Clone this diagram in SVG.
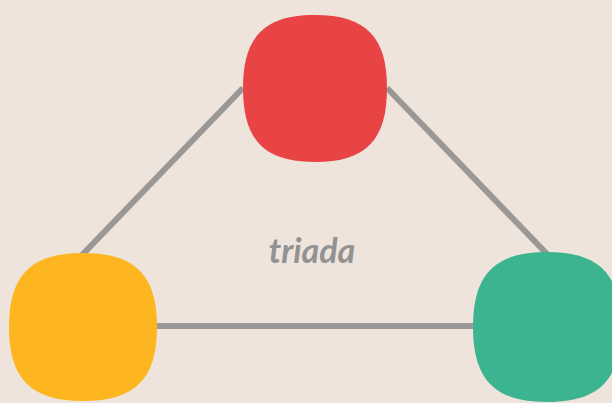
<svg xmlns="http://www.w3.org/2000/svg" width="612" height="403" viewBox="0 0 612 403">
<style>
.edge{stroke:#999897;stroke-width:6;fill:none}
.node{stroke:none}
.lbl{font-family:Lato,"Liberation Sans",Arial,sans-serif;font-weight:bold;font-style:italic;font-size:34px;fill:#929292}
</style>
<rect width="612" height="403" fill="#EFE4DB"/>
<g id="connectors">
<line class="edge" x1="243" y1="88" x2="82" y2="255"/>
<line class="edge" x1="387" y1="88" x2="548" y2="255"/>
<line class="edge" x1="155" y1="326" x2="475" y2="326"/>
</g>
<g id="node-red"><path class="node" fill="#E84446" d="M315,15 C366,15 387,37 387,88 C387,140 366,162 315,162 C264,162 243,140 243,88 C243,37 264,15 315,15 Z"/></g>
<g id="node-yellow"><path class="node" fill="#FDB620" d="M83,253 C135,253 157,275 157,327 C157,379 135,401 83,401 C31,401 9,379 9,327 C9,275 31,253 83,253 Z"/></g>
<g id="node-green"><path class="node" fill="#3CB48F" d="M547,252 C599,252 621,274 621,327 C621,380 599,402 547,402 C495,402 473,380 473,327 C473,274 495,252 547,252 Z"/></g>
<g id="label"><text class="lbl" x="312" y="263" text-anchor="middle">triada</text></g>
</svg>
